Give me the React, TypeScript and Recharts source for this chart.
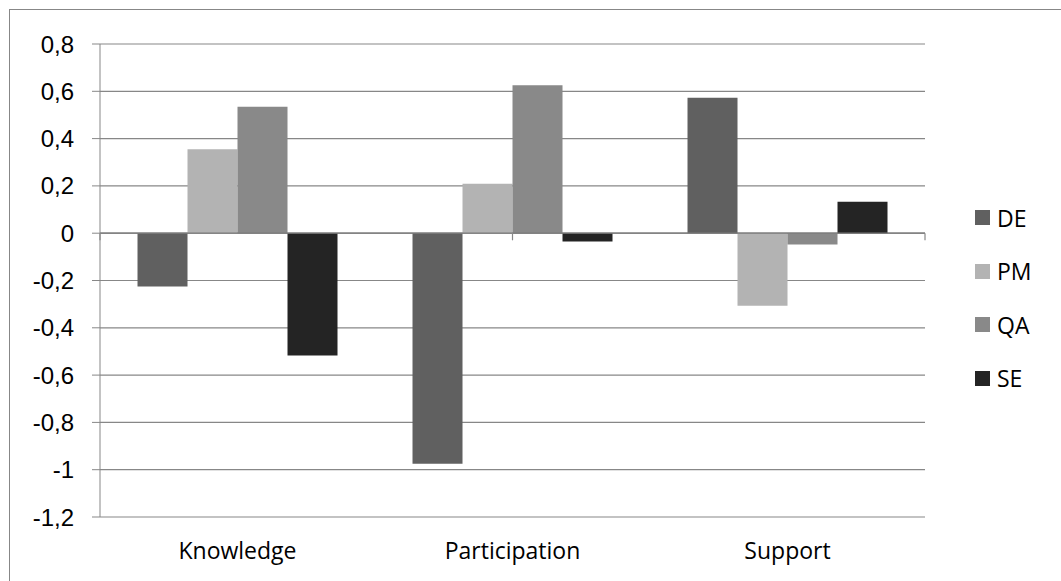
import { Bar, BarChart, CartesianGrid, ReferenceLine, XAxis, YAxis } from 'recharts';

const categories = ['Knowledge', 'Participation', 'Support'];
const deValues = [-0.225, -0.975, 0.573];
const pmValues = [0.355, 0.209, -0.307];
const qaValues = [0.535, 0.626, -0.048];
const seValues = [-0.517, -0.035, 0.133];
const yTicks = [-1.2, -1, -0.8, -0.6, -0.4, -0.2, 0, 0.2, 0.4, 0.6, 0.8];
const boundaries = [0, 1, 2, 3];

const series = [
  { key: 'DE', color: '#606060' },
  { key: 'PM', color: '#b3b3b3' },
  { key: 'QA', color: '#898989' },
  { key: 'SE', color: '#242424' },
];

const data = categories.map((name, i) => ({
  name,
  DE: deValues[i],
  PM: pmValues[i],
  QA: qaValues[i],
  SE: seValues[i],
}));

const axisColor = '#878787';
const labelFont = '"Open Sans", sans-serif';

const formatTick = (v: number) => String(Math.round(v * 10) / 10).replace('.', ',');

// legend sits outside the chart so it doesn't shrink the plot area
const LegendBox = () => (
  <div
    style={{
      position: 'absolute',
      left: 975,
      top: 191,
      fontFamily: labelFont,
      fontSize: 23,
      color: '#000',
    }}
  >
    {series.map((s) => (
      <div key={s.key} style={{ display: 'flex', alignItems: 'center', height: 53.5 }}>
        <span style={{ width: 15, height: 15, background: s.color, marginRight: 7 }} />
        <span>{s.key}</span>
      </div>
    ))}
  </div>
);

export default function App() {
  return (
    <div style={{ position: 'relative', width: 1061, height: 581, background: '#fff' }}>
      <style>{'body{margin:0}'}</style>
      <div
        style={{
          position: 'absolute',
          left: 9,
          top: 9,
          right: 0,
          bottom: 0,
          borderTop: `1.5px solid ${axisColor}`,
          borderLeft: `1.5px solid ${axisColor}`,
        }}
      />
      <BarChart
        width={1061}
        height={581}
        data={data}
        margin={{ top: 44, right: 136, left: 0, bottom: 34 }}
        barCategoryGap="13.64%"
        barGap={0}
      >
        <CartesianGrid vertical={false} stroke={axisColor} strokeWidth={1.2} />
        <XAxis
          dataKey="name"
          height={30}
          axisLine={false}
          tickLine={false}
          tickSize={0}
          tickMargin={26}
          tick={{ fontSize: 23, fill: '#000', fontFamily: labelFont }}
        />
        <XAxis xAxisId="edge" type="number" domain={[0, 3]} ticks={boundaries} hide />
        <YAxis
          domain={[-1.2, 0.8]}
          ticks={yTicks}
          interval={0}
          width={100}
          tickFormatter={formatTick}
          stroke={axisColor}
          tickSize={8}
          tickMargin={18}
          tick={{ fontSize: 24, fill: '#000', fontFamily: '"Liberation Sans", Arial, sans-serif' }}
        />
        {series.map((s) => (
          <Bar key={s.key} dataKey={s.key} fill={s.color} isAnimationActive={false} />
        ))}
        <ReferenceLine y={0} stroke="#7a7a7a" strokeWidth={1.3} />
        {boundaries.map((b) => (
          <ReferenceLine
            key={b}
            xAxisId="edge"
            segment={[
              { x: b, y: 0 },
              { x: b, y: -0.03 },
            ]}
            stroke={axisColor}
            strokeWidth={1.2}
          />
        ))}
      </BarChart>
      <LegendBox />
    </div>
  );
}
